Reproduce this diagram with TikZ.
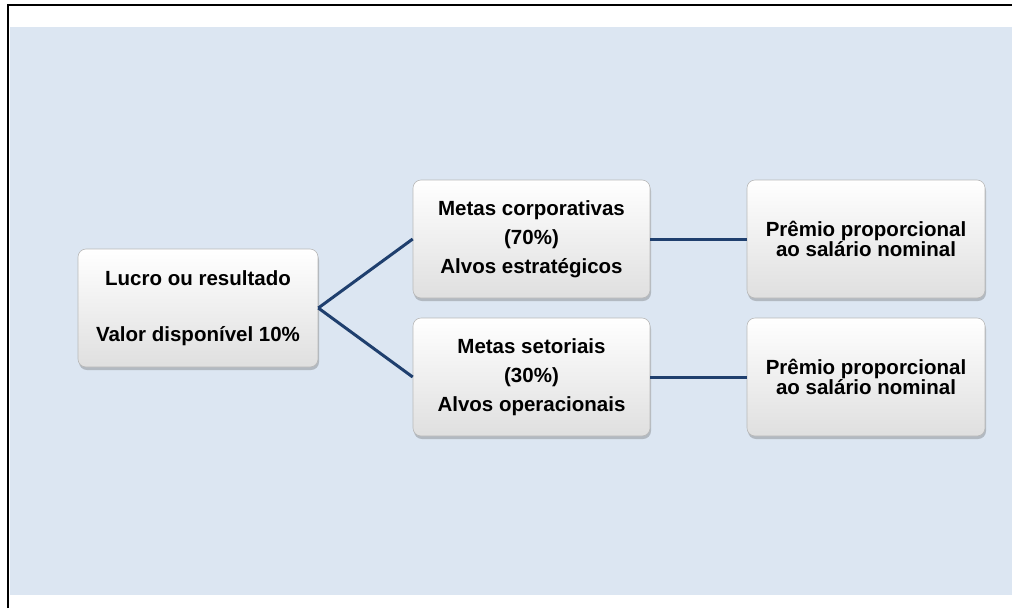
\documentclass[tikz,border=0pt]{standalone}
\usepackage{fontspec}
\setmainfont{Liberation Sans}
\usetikzlibrary{shadows}
\definecolor{bgblue}{HTML}{DCE6F2}
\definecolor{linenavy}{HTML}{1F3F6E}
\tikzset{
  box/.style={rounded corners=8pt, draw=gray!55, line width=0.6pt,
    top color=white, bottom color=gray!25,
    drop shadow={shadow xshift=1pt, shadow yshift=-3pt, opacity=0.35, fill=black!60},
    minimum height=118pt, align=center, inner sep=0pt,
    font=\bfseries\fontsize{20.5}{24.6}\selectfont},
  tight/.style={font=\bfseries\fontsize{20.5}{19.6}\selectfont},
  conn/.style={draw=linenavy, line width=3pt}
}
\begin{document}
\begin{tikzpicture}[x=1pt,y=-1pt]
\useasboundingbox (0,0) rectangle (1012,608);
\fill[white] (0,0) rectangle (1012,608);
\fill[bgblue] (10,27) rectangle (1012,595);
\draw[black, line width=2pt] (8,608) -- (8,4.5) -- (1012,4.5);
\node[box, minimum width=240pt] (A) at (198,308) {Lucro ou resultado\\[32pt]Valor disponível 10\%};
\node[box, minimum width=237pt] (B) at (531.5,239) {Metas corporativas\\[5pt](70\%)\\[4pt]Alvos estratégicos};
\node[box, minimum width=237pt] (C) at (531.5,377) {Metas setoriais\\[5pt](30\%)\\[4pt]Alvos operacionais};
\node[box, tight, minimum width=238pt] (D) at (866,239) {Prêmio proporcional\\ao salário nominal};
\node[box, tight, minimum width=238pt] (E) at (866,377) {Prêmio proporcional\\ao salário nominal};
\draw[conn] (A.east) -- (B.west);
\draw[conn] (A.east) -- (C.west);
\draw[conn] (B.east) -- (D.west);
\draw[conn] (C.east) -- (E.west);
\end{tikzpicture}
\end{document}
